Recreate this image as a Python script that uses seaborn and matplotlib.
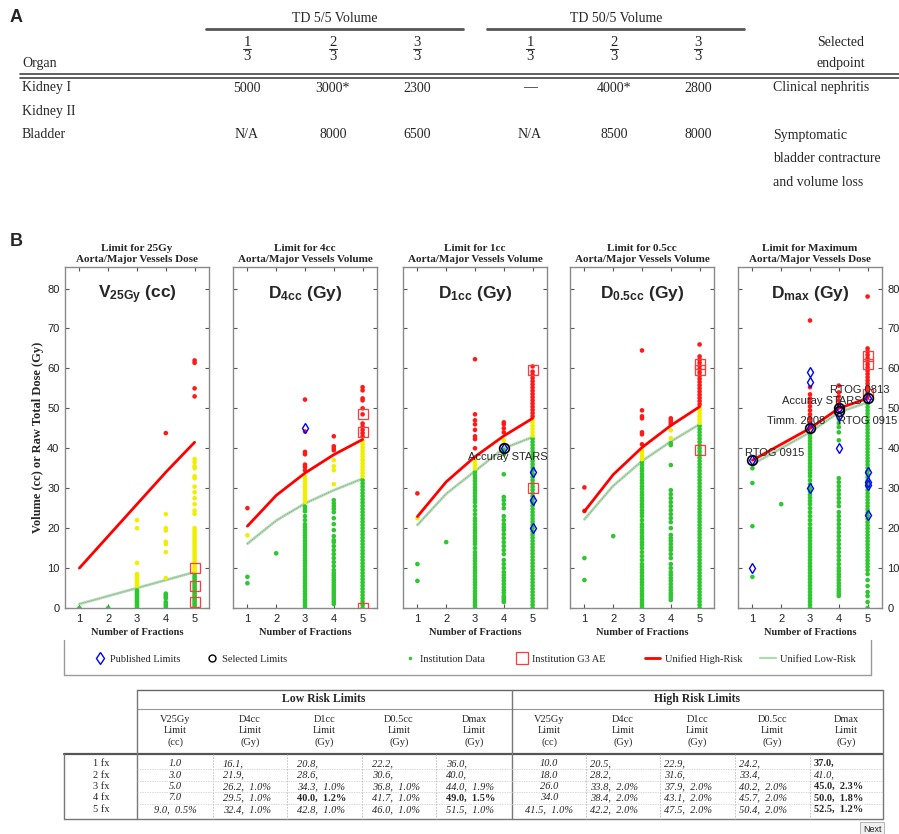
import pandas as pd
import matplotlib
matplotlib.use("Agg")
import matplotlib.pyplot as plt
from matplotlib.lines import Line2D
import seaborn as sns

# ---------------- Panel A table ----------------
td_groups = ["TD 5/5 Volume", "TD 50/5 Volume"]
vol_numerators = ["1", "2", "3", "1", "2", "3"]
vol_denominators = ["3", "3", "3", "3", "3", "3"]
organs = ["Kidney I", "Kidney II", "Bladder"]
kidney_vals = ["5000", "3000*", "2300", "\u2014", "4000*", "2800"]
bladder_vals = ["N/A", "8000", "6500", "N/A", "8500", "8000"]
kidney_endpoint = ["Clinical nephritis"]
bladder_endpoint = ["Symptomatic", "bladder contracture", "and volume loss"]

# ---------------- Panel B plots ----------------
fractions = [1, 2, 3, 4, 5]
panel_titles = ["Limit for 25Gy\nAorta/Major Vessels Dose",
                "Limit for 4cc\nAorta/Major Vessels Volume",
                "Limit for 1cc\nAorta/Major Vessels Volume",
                "Limit for 0.5cc\nAorta/Major Vessels Volume",
                "Limit for Maximum\nAorta/Major Vessels Dose"]
metric_names = [r"$V_{25Gy}$ (cc)", r"$D_{4cc}$ (Gy)", r"$D_{1cc}$ (Gy)",
                r"$D_{0.5cc}$ (Gy)", r"$D_{max}$ (Gy)"]

low_v25 = [1.0, 3.0, 5.0, 7.0, 9.0]
high_v25 = [10.0, 18.0, 26.0, 34.0, 41.5]
low_d4cc = [16.1, 21.9, 26.2, 29.5, 32.4]
high_d4cc = [20.5, 28.2, 33.8, 38.4, 42.2]
low_d1cc = [20.8, 28.6, 34.3, 40.0, 42.8]
high_d1cc = [22.9, 31.6, 37.9, 43.1, 47.5]
low_d05cc = [22.2, 30.6, 36.8, 41.7, 46.0]
high_d05cc = [24.2, 33.4, 40.2, 45.7, 50.4]
low_dmax = [36.0, 40.0, 44.0, 49.0, 51.5]
high_dmax = [37.0, 41.0, 45.0, 50.0, 52.5]

# institution data, one list per number of fractions
inst_v25 = [
    [0],
    [0],
    [0, 0.4, 0.8, 1.2, 1.6, 2.0, 2.4, 2.8, 3.2, 3.6, 4.0, 4.4, 5.6, 6.0, 6.5, 7.0, 7.5, 8.0, 8.5,
     11.3, 20.0, 22.0],
    [0, 0.5, 1.0, 1.5, 2.4, 2.8, 3.2, 3.6, 7.5, 14.0, 16.0, 16.6, 19.4, 20.0, 23.5, 43.8],
    [0, 0.5, 1.0, 1.5, 2.0, 2.5, 3.0, 3.5, 4.0, 4.5, 5.0, 5.5, 6.0, 6.5, 7.0, 7.5, 8.0, 8.6,
     9.2, 9.8, 10.4, 11.0, 11.6, 12.2, 12.8, 13.4, 14.0, 14.6, 15.2, 15.8, 16.4, 17.0, 17.6,
     18.2, 18.8, 19.4, 20.0, 23.6, 24.4, 26.0, 27.5, 29.0, 30.4, 32.5, 33.0, 35.0, 35.5, 36.5,
     37.3, 53.0, 55.0, 61.4, 62.0],
]
inst_d4cc = [
    [6.2, 7.8, 18.2, 25.0],
    [13.7],
    [0, 0.7, 1.4, 2.1, 2.8, 3.5, 4.2, 4.9, 5.6, 6.3, 7.0, 7.7, 8.4, 9.1, 9.8, 10.5, 11.2, 11.9,
     12.6, 13.3, 14.0, 14.7, 15.4, 16.1, 16.8, 17.5, 18.2, 18.9, 19.6, 20.3, 21.0, 22.0, 23.0,
     24.2, 24.8, 25.4, 26.6, 27.3, 28.0, 28.7, 29.4, 30.1, 30.8, 31.5, 32.2, 32.9, 34.5, 35.3,
     35.9, 38.5, 39.1, 44.2, 52.2],
    [1.0, 1.6, 2.2, 2.8, 3.4, 4.0, 4.6, 5.2, 5.8, 6.4, 7.0, 7.6, 8.2, 8.8, 9.5, 10.5, 11.5,
     12.5, 13.5, 14.5, 15.5, 16.5, 17.0, 18.0, 19.5, 21.0, 22.5, 24.0, 24.8, 25.5, 26.2, 27.0,
     31.0, 34.5, 35.5, 37.0, 39.5, 40.0, 40.5, 43.0],
    [0, 0.8, 1.6, 2.4, 3.2, 4.0, 4.8, 5.6, 6.4, 7.2, 8.0, 8.8, 9.6, 10.4, 11.2, 12.0, 12.8,
     13.6, 14.4, 15.2, 16.0, 16.8, 17.6, 18.4, 19.2, 20.0, 20.8, 21.6, 22.4, 23.2, 24.0, 24.8,
     25.6, 26.4, 27.2, 28.0, 28.8, 29.6, 30.4, 31.2, 32.0, 33.0, 33.8, 34.6, 35.4, 36.2, 37.0,
     37.8, 38.6, 39.4, 40.2, 41.0, 41.8, 43.0, 43.8, 44.6, 45.4, 46.2, 48.5, 50.0, 52.0, 52.5,
     54.5, 55.3],
]
inst_d1cc = [
    [6.8, 11.0, 22.5, 28.7],
    [16.5],
    [0, 0.7, 1.4, 2.1, 2.8, 3.5, 4.2, 5.0, 5.8, 6.5, 7.2, 8.0, 8.8, 9.5, 10.2, 11.0, 11.8, 12.5,
     13.2, 14.0, 15.0, 16.0, 16.7, 17.4, 18.0, 18.8, 19.5, 20.2, 21.0, 21.8, 22.5, 23.5, 24.5,
     25.5, 26.5, 27.2, 28.0, 28.8, 29.5, 30.2, 31.0, 31.8, 32.5, 33.2, 34.0, 35.0, 35.8, 36.6,
     37.4, 40.0, 42.3, 43.0, 44.6, 46.0, 47.0, 48.5, 62.3],
    [1.5, 2.0, 2.5, 3.0, 3.8, 4.5, 5.2, 6.0, 6.8, 7.5, 8.2, 9.0, 10.0, 11.0, 12.0, 13.5, 14.5,
     15.5, 16.5, 17.5, 18.5, 19.5, 20.2, 21.0, 22.0, 23.0, 25.0, 26.0, 27.0, 27.8, 33.5, 38.5,
     39.5, 41.0, 42.0, 44.0, 45.0, 46.0, 46.5],
    [0, 0.8, 1.6, 2.4, 3.2, 4.0, 4.8, 5.6, 6.4, 7.2, 8.0, 8.8, 9.6, 10.4, 11.2, 12.0, 12.8,
     13.6, 14.4, 15.2, 16.0, 16.8, 17.6, 18.4, 19.2, 20.0, 20.8, 21.6, 22.4, 23.2, 24.0, 24.8,
     25.6, 26.4, 27.2, 28.0, 28.8, 29.6, 30.4, 31.2, 32.0, 32.8, 33.6, 34.4, 35.2, 36.0, 36.8,
     37.6, 38.4, 39.2, 40.0, 40.8, 41.6, 42.4, 43.2, 44.0, 44.8, 45.6, 46.4, 47.2, 48.0, 48.8,
     49.6, 50.4, 51.2, 52.0, 52.8, 53.6, 54.4, 55.2, 56.0, 56.8, 57.6, 58.4, 59.2, 60.5],
]
inst_d05cc = [
    [7.0, 12.5, 24.3, 30.2],
    [18.0],
    [0, 0.7, 1.4, 2.1, 2.9, 3.6, 4.3, 5.0, 5.8, 6.5, 7.2, 8.0, 8.8, 9.5, 10.3, 11.0, 12.0, 13.0,
     14.0, 15.0, 15.8, 16.5, 17.3, 18.0, 18.8, 19.5, 20.3, 21.0, 22.0, 23.0, 23.8, 24.5, 25.3,
     26.0, 26.8, 27.5, 28.3, 29.0, 29.8, 30.5, 31.3, 32.0, 32.8, 33.5, 34.3, 35.0, 35.8, 36.5,
     37.3, 38.0, 38.8, 39.5, 41.0, 43.5, 44.0, 47.5, 48.0, 49.5, 64.5],
    [2.0, 2.6, 3.2, 3.8, 4.5, 5.2, 6.0, 6.8, 7.5, 8.3, 9.0, 10.0, 11.0, 12.5, 13.5, 14.5, 15.2,
     16.0, 16.8, 17.5, 18.3, 20.0, 21.5, 22.5, 23.5, 24.5, 25.5, 26.5, 27.5, 28.5, 29.5, 35.8,
     40.8, 41.3, 42.5, 44.5, 46.0, 46.5, 47.0, 47.5],
    [0, 0.8, 1.6, 2.4, 3.2, 4.0, 4.8, 5.6, 6.4, 7.2, 8.0, 8.8, 9.6, 10.4, 11.2, 12.0, 12.8,
     13.6, 14.4, 15.2, 16.0, 16.8, 17.6, 18.4, 19.2, 20.0, 20.8, 21.6, 22.4, 23.2, 24.0, 24.8,
     25.6, 26.4, 27.2, 28.0, 28.8, 29.6, 30.4, 31.2, 32.0, 32.8, 33.6, 34.4, 35.2, 36.0, 36.8,
     37.6, 38.4, 39.2, 40.0, 40.8, 41.6, 42.4, 43.2, 44.0, 44.8, 45.6, 46.4, 47.2, 48.0, 48.8,
     49.6, 50.2, 51.0, 51.8, 52.6, 53.4, 54.2, 55.0, 55.8, 56.6, 57.4, 58.2, 59.0, 59.8, 60.6,
     61.4, 62.2, 63.0, 66.0],
]
inst_dmax = [
    [7.8, 20.5, 31.3, 35.0],
    [26.0],
    [0, 0.8, 1.6, 2.4, 3.2, 4.0, 4.8, 5.6, 6.4, 7.2, 8.0, 8.8, 9.6, 10.4, 11.2, 12.0, 12.8,
     13.6, 14.4, 15.2, 16.0, 16.8, 17.6, 18.4, 19.2, 20.0, 21.0, 22.0, 23.0, 24.0, 25.0, 26.0,
     26.8, 27.6, 28.4, 29.2, 30.0, 31.0, 32.0, 33.0, 33.8, 34.6, 35.4, 36.2, 37.0, 37.8, 38.6,
     39.4, 40.2, 41.0, 41.8, 42.6, 43.4, 44.5, 45.5, 46.5, 47.5, 48.5, 49.5, 50.5, 51.5, 52.5,
     53.5, 55.3, 72.0],
    [3.0, 3.6, 4.2, 4.8, 5.5, 6.2, 7.0, 7.8, 8.5, 9.3, 10.0, 11.0, 12.0, 13.0, 14.0, 15.0, 16.0,
     17.0, 18.0, 19.0, 20.0, 21.0, 22.0, 23.0, 24.0, 25.5, 26.5, 27.5, 28.5, 29.5, 30.5, 31.5,
     32.5, 42.0, 44.0, 45.3, 46.3, 47.3, 51.0, 52.0, 53.0, 54.0, 55.7],
    [0, 1.5, 3.0, 4.0, 5.5, 7.0, 8.5, 9.5, 10.3, 11.1, 11.9, 12.7, 13.5, 14.3, 15.1, 15.9,
     16.7, 17.5, 18.3, 19.1, 19.9, 20.7, 21.5, 22.3, 23.1, 23.9, 24.7, 25.5, 26.3, 27.1, 27.9,
     28.7, 29.5, 30.3, 31.1, 31.9, 32.7, 33.5, 34.3, 35.1, 35.9, 36.7, 37.5, 38.3, 39.1, 39.9,
     40.7, 41.5, 42.3, 43.1, 43.9, 44.7, 45.5, 46.3, 47.1, 47.9, 48.7, 49.5, 50.3, 51.1, 53.0,
     53.8, 54.6, 55.4, 56.2, 57.0, 57.8, 58.6, 59.4, 60.2, 61.0, 61.8, 62.6, 63.4, 64.2, 65.0,
     78.0],
]

# (fractions, value) pairs
published_d4cc = [(3, 45.0)]
published_d1cc = [(4, 40.0), (5, 34.0), (5, 27.0), (5, 20.0)]
published_dmax = [(1, 37.0), (1, 10.0), (3, 59.0), (3, 56.7), (3, 45.0), (3, 30.0), (4, 50.0),
                  (4, 48.0), (4, 40.0), (5, 52.5), (5, 34.0), (5, 31.5), (5, 30.8), (5, 23.2)]
selected_d1cc = [(4, 40.0)]
selected_dmax = [(1, 37.0), (3, 45.0), (4, 49.3), (4, 50.0), (5, 52.5)]
g3_v25 = [(5, 10.0), (5, 5.5), (5, 1.5)]
g3_d4cc = [(5, 48.5), (5, 44.0), (5, 0.0)]
g3_d1cc = [(5, 59.5), (5, 30.0)]
g3_d05cc = [(5, 61.0), (5, 59.5), (5, 39.5)]
g3_dmax = [(5, 61.0), (5, 63.0), (5, 53.5)]
d1cc_labels = ["Accuray STARS"]
dmax_labels = ["RTOG 0915", "Timm. 2008", "RTOG 0915", "Accuray STARS", "RTOG 0813"]

# ---------------- bottom table ----------------
col_heads = ["V25Gy\nLimit\n(cc)", "D4cc\nLimit\n(Gy)", "D1cc\nLimit\n(Gy)",
             "D0.5cc\nLimit\n(Gy)", "Dmax\nLimit\n(Gy)"]
row_labels = ["1 fx", "2 fx", "3 fx", "4 fx", "5 fx"]
low_cells = [["1.0", "16.1,", "20.8,", "22.2,", "36.0,"],
             ["3.0", "21.9,", "28.6,", "30.6,", "40.0,"],
             ["5.0", "26.2,  1.0%", "34.3,  1.0%", "36.8,  1.0%", "44.0,  1.9%"],
             ["7.0", "29.5,  1.0%", "40.0,  1.2%", "41.7,  1.0%", "49.0,  1.5%"],
             ["9.0,  0.5%", "32.4,  1.0%", "42.8,  1.0%", "46.0,  1.0%", "51.5,  1.0%"]]
high_cells = [["10.0", "20.5,", "22.9,", "24.2,", "37.0,"],
              ["18.0", "28.2,", "31.6,", "33.4,", "41.0,"],
              ["26.0", "33.8,  2.0%", "37.9,  2.0%", "40.2,  2.0%", "45.0,  2.3%"],
              ["34.0", "38.4,  2.0%", "43.1,  2.0%", "45.7,  2.0%", "50.0,  1.8%"],
              ["41.5,  1.0%", "42.2,  2.0%", "47.5,  2.0%", "50.4,  2.0%", "52.5,  1.2%"]]
low_bold = [(3, 2), (3, 4)]
high_bold = [(0, 4), (2, 4), (3, 4), (4, 4)]

# ------------------------------------------------------------------
sns.set_style("white")
plt.rcParams["font.family"] = ["Liberation Sans", "DejaVu Sans"]
plt.rcParams["mathtext.fontset"] = "custom"
plt.rcParams["mathtext.default"] = "bf"
plt.rcParams["mathtext.bf"] = "Liberation Sans:bold"

W, H = 899, 834
SERIF = "Liberation Serif"


def fx(x):
    return x / W


def fy(y):
    return 1 - y / H


fig = plt.figure(figsize=(8.99, 8.34), dpi=100)


def txt(x, y, s, **kw):
    kw.setdefault("family", SERIF)
    kw.setdefault("va", "center")
    fig.text(fx(x), fy(y), s, **kw)


def seg(x0, y0, x1, y1, **kw):
    kw.setdefault("color", "#555555")
    kw.setdefault("lw", 1.0)
    fig.add_artist(Line2D([fx(x0), fx(x1)], [fy(y0), fy(y1)], transform=fig.transFigure, **kw))


# ---------- Panel A ----------
txt(16, 18, "A", fontsize=13, fontweight="bold", family="Liberation Sans", ha="center")
for name, cx, (x0, x1) in zip(td_groups, [335, 616], [(206, 463), (487, 744)]):
    txt(cx, 18, name, fontsize=10, ha="center")
    seg(x0, 29, x1, 29, lw=2, color="#555555")
col_x = [247, 333, 417, 530, 614, 698]
for cx, num, den in zip(col_x, vol_numerators, vol_denominators):
    txt(cx, 42, num, fontsize=10.5, ha="center")
    seg(cx - 4, 48.5, cx + 4, 48.5, lw=0.8, color="#333333")
    txt(cx, 56, den, fontsize=10.5, ha="center")
txt(22, 64, "Organ", fontsize=10, ha="left")
txt(841, 42, "Selected", fontsize=10, ha="center")
txt(841, 64, "endpoint", fontsize=10, ha="center")
seg(20, 74, 899, 74, lw=1.2, color="#444444")
seg(20, 77.5, 899, 77.5, lw=1.2, color="#444444")
for org, y in zip(organs, [88, 112, 135]):
    txt(22, y, org, fontsize=10, ha="left")
for cx, v in zip(col_x, kidney_vals):
    txt(cx, 88, v, fontsize=10, ha="center")
for cx, v in zip(col_x, bladder_vals):
    txt(cx, 135, v, fontsize=10, ha="center")
txt(773, 88, kidney_endpoint[0], fontsize=10, ha="left")
for s, y in zip(bladder_endpoint, [135, 158, 182]):
    txt(773, y, s, fontsize=10, ha="left")

# ---------- Panel B ----------
txt(16, 242, "B", fontsize=13, fontweight="bold", family="Liberation Sans", ha="center")

lows = [low_v25, low_d4cc, low_d1cc, low_d05cc, low_dmax]
highs = [high_v25, high_d4cc, high_d1cc, high_d05cc, high_dmax]
insts = [inst_v25, inst_d4cc, inst_d1cc, inst_d05cc, inst_dmax]
pubs = [[], published_d4cc, published_d1cc, [], published_dmax]
sels = [[], [], selected_d1cc, [], selected_dmax]
g3s = [g3_v25, g3_d4cc, g3_d1cc, g3_d05cc, g3_dmax]
zone_colors = {"low": "#2fc72f", "mid": "#eef000", "high": "#ff1a1a"}

ax_left = [65, 233, 403, 570, 738]
ax_w, ax_top, ax_bot = 144, 267, 608
axes = []
for i in range(5):
    ax = fig.add_axes([fx(ax_left[i]), fy(ax_bot), ax_w / W, (ax_bot - ax_top) / H])
    axes.append(ax)
    lo, hi = lows[i], highs[i]
    rows = []
    for f, vals in zip(fractions, insts[i]):
        for v in vals:
            z = "high" if v > hi[f - 1] else ("mid" if v > lo[f - 1] else "low")
            rows.append((f, v, z))
    df = pd.DataFrame(rows, columns=["fx", "val", "zone"])

    sns.lineplot(x=fractions, y=lo, color="#b2dab2", lw=2.0, ax=ax, zorder=2)
    sns.lineplot(x=fractions, y=lo, color="#7d9b7d", lw=0.6, ls=(0, (1, 1.5)), ax=ax, zorder=2)
    sns.scatterplot(data=df, x="fx", y="val", hue="zone", palette=zone_colors, s=11,
                    linewidth=0, legend=False, ax=ax, zorder=3)
    sns.lineplot(x=fractions, y=hi, color="#ff0000", lw=2.0, ax=ax, zorder=4)

    if g3s[i]:
        gx, gy = zip(*g3s[i])
        ax.plot(gx, gy, ls="none", marker="s", ms=7.5, mfc="none", mec="#ff3b3b", mew=0.9, zorder=5)
    if pubs[i]:
        px_, py_ = zip(*pubs[i])
        ax.plot(px_, py_, ls="none", marker="d", ms=5.5, mfc="none", mec="#0000ff", mew=1.0, zorder=6)
    if sels[i]:
        sx, sy = zip(*sels[i])
        ax.plot(sx, sy, ls="none", marker="o", ms=7, mfc="none", mec="black", mew=1.2, zorder=7)

    ax.set_xlim(0.5, 5.5)
    ax.set_ylim(0, 85.4)
    ax.set_xticks(fractions)
    ax.set_yticks(range(0, 81, 10))
    ax.tick_params(direction="in", length=3, width=0.8, top=True, right=True, left=True,
                   bottom=True, color="#555555", labelcolor="#222222", labelsize=8,
                   labelleft=(i == 0), labelright=(i == 4), pad=4)
    for sp in ax.spines.values():
        sp.set_color("#8a8a8a")
        sp.set_linewidth(1.0)
    ax.set_title(panel_titles[i], fontsize=8, fontweight="bold", family=SERIF, pad=3.5,
                 linespacing=1.35)
    ax.set_xlabel("Number of Fractions", fontsize=7.5, fontweight="bold", family=SERIF, labelpad=3)
    ax.set_ylabel("")
    ax.text(0.5, 0.909, metric_names[i], transform=ax.transAxes, ha="center", va="baseline",
            fontsize=12.5, fontweight="bold", family="Liberation Sans")

axes[0].set_ylabel("Volume (cc) or Raw Total Dose (Gy)", fontsize=9, fontweight="bold",
                   family=SERIF, labelpad=2)

lab_kw = dict(fontsize=8, family="Liberation Sans", ha="left", va="center", zorder=8)
axes[2].text(2.74, 37.8, d1cc_labels[0], **lab_kw)
for s, (x, y) in zip(dmax_labels, [(0.76, 38.8), (1.52, 46.9), (3.98, 46.9), (2.03, 51.9), (3.69, 54.6)]):
    axes[4].text(x, y, s, **lab_kw)

# legend strip
leg_handles = [
    Line2D([], [], ls="none", marker="d", ms=6, mfc="none", mec="#0000ff", mew=1.0),
    Line2D([], [], ls="none", marker="o", ms=5, mfc="none", mec="black", mew=1.0),
    Line2D([], [], ls="none", marker="o", ms=2.5, mfc=zone_colors["low"], mec="none"),
    Line2D([], [], ls="none", marker="s", ms=8, mfc="none", mec="#ff3b3b", mew=0.9),
    Line2D([], [], color="#ff0000", lw=2),
    Line2D([], [], color="#b2dab2", lw=1.6),
]
leg_labels = ["Published Limits", "Selected Limits", "Institution Data", "Institution G3 AE",
              "Unified High-Risk", "Unified Low-Risk"]
leg_x = [95, 207, 405, 516, 645, 760]
leg_len = [1.0, 1.0, 1.0, 1.1, 1.45, 1.5]
for h, lab, x, hl in zip(leg_handles, leg_labels, leg_x, leg_len):
    fig.legend([h], [lab], loc="center left", bbox_to_anchor=(fx(x), fy(659)), frameon=False,
               prop=dict(family=SERIF, size=7.5), handlelength=hl, handletextpad=0.45,
               borderpad=0, borderaxespad=0)
seg(64, 640, 64, 675, color="#9a9a9a")
seg(64, 675, 871, 675, color="#9a9a9a")
seg(871, 640, 871, 675, color="#9a9a9a")

# ---------- bottom table ----------
low_b = [137, 213, 287, 362, 436, 512]
high_b = [512, 586, 660, 735, 810, 883]
top, grp_line, head_line, bottom = 690, 709, 754, 819
row_y = [763.5, 775, 786.5, 798, 809.5]

seg(137, top, 883, top, color="#666666")
seg(137, grp_line, 883, grp_line, color="#999999", lw=0.8)
seg(64, head_line, 883, head_line, color="#555555", lw=1.6)
seg(64, bottom, 883, bottom, color="#777777")
seg(64, head_line, 64, bottom, color="#777777")
for x in [137, 512, 883]:
    seg(x, top, x, bottom, color="#777777")
for bounds in (low_b, high_b):
    for x in bounds[1:-1]:
        seg(x, head_line, x, bottom, color="#bbbbbb", lw=0.6, ls=(0, (2, 1.5)))
for y0, y1 in zip(row_y[:-1], row_y[1:]):
    seg(137, (y0 + y1) / 2, 883, (y0 + y1) / 2, color="#c8c8c8", lw=0.5, ls=(0, (2, 1.5)))

txt(324, 699, "Low Risk Limits", fontsize=8.5, fontweight="bold", ha="center")
txt(697, 699, "High Risk Limits", fontsize=8.5, fontweight="bold", ha="center")
for bounds in (low_b, high_b):
    for j, head in enumerate(col_heads):
        cx = (bounds[j] + bounds[j + 1]) / 2
        txt(cx, 731, head, fontsize=7.5, ha="center", linespacing=1.3)
for s, y in zip(row_labels, row_y):
    txt(101, y, s, fontsize=7.5, ha="center")

for cells, bounds, bold, off in ((low_cells, low_b, low_bold, 10), (high_cells, high_b, high_bold, 4)):
    for r, row in enumerate(cells):
        for j, s in enumerate(row):
            is_bold = (r, j) in bold
            style = dict(fontsize=7.5, fontweight="bold" if is_bold else "normal",
                         style="normal" if is_bold else "italic")
            if j == 0:
                txt((bounds[0] + bounds[1]) / 2, row_y[r], s, ha="center", **style)
            else:
                txt(bounds[j] + off, row_y[r], s, ha="left", **style)

fig.text(fx(872), fy(829), "Next", ha="center", va="center", fontsize=6.5, family="Liberation Sans",
         bbox=dict(boxstyle="square,pad=0.25", fc="#f0f0f0", ec="#aaaaaa", lw=0.6))

plt.savefig("out.png", dpi=100)
